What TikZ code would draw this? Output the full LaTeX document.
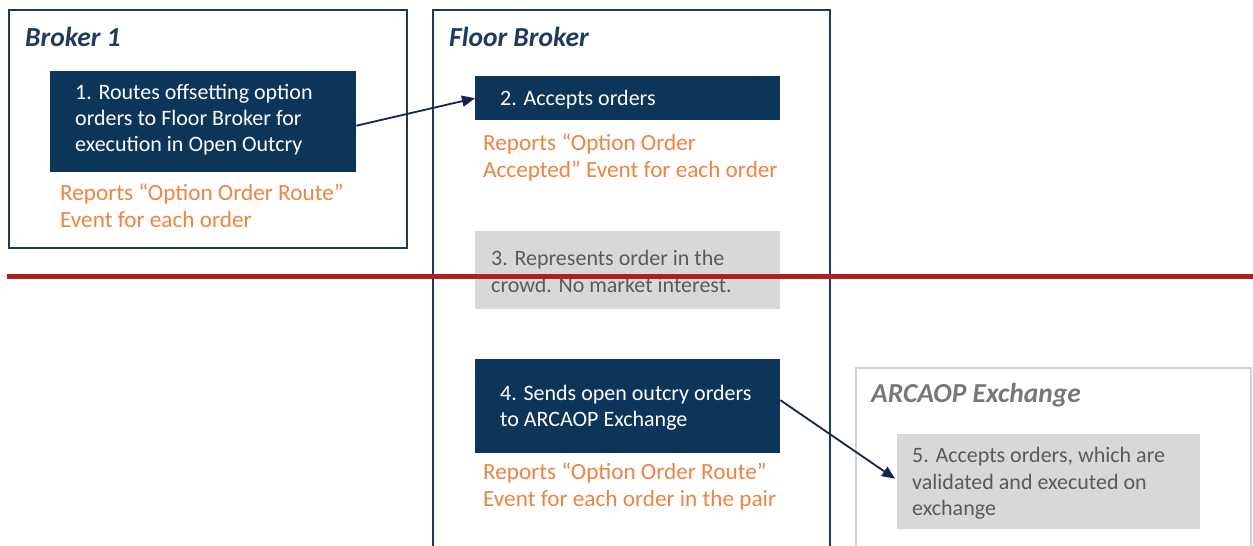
\documentclass[tikz,border=0pt]{standalone}
\usepackage{fontspec}
\setmainfont{Carlito}
\usetikzlibrary{arrows.meta}
\definecolor{navy}{RGB}{13,53,89}
\definecolor{frame}{RGB}{30,58,92}
\definecolor{arrowc}{RGB}{22,36,84}
\definecolor{orangetxt}{RGB}{238,132,66}
\definecolor{grayfill}{RGB}{216,216,216}
\definecolor{graytxt}{RGB}{90,90,90}
\definecolor{lightframe}{RGB}{210,210,210}
\definecolor{titlegray}{RGB}{120,120,120}
\definecolor{redline}{RGB}{180,30,35}
\tikzset{
  x=1pt, y=-1pt,
  outerbox/.style={draw=frame, line width=2.2pt, fill=white},
  exbox/.style={draw=lightframe, line width=2pt, fill=white},
  title/.style={anchor=west, inner sep=0, font=\fontsize{27.5}{31}\selectfont\bfseries\itshape, text=frame},
  navybox/.style={fill=navy, draw=none},
  graybox/.style={fill=grayfill, draw=none},
  whitetxt/.style={anchor=west, inner sep=0, align=left, text=white, font=\fontsize{22}{26}\selectfont},
  graytext/.style={anchor=west, inner sep=0, align=left, text=graytxt, font=\fontsize{22}{26.5}\selectfont},
  orangetext/.style={anchor=west, inner sep=0, align=left, text=orangetxt, font=\fontsize{23.2}{27}\selectfont},
  conn/.style={draw=arrowc, line width=1.8pt, -{Triangle[length=13pt,width=11pt]}}
}
\begin{document}
\begin{tikzpicture}
\useasboundingbox (0,0) rectangle (1253,546);
\clip (0,0) rectangle (1253,546);
% outer frames
\draw[outerbox] (9,10) rectangle (407,248);
\draw[outerbox] (433,10) rectangle (830,560);
\draw[exbox] (856,368) rectangle (1251,560);
% titles
\node[title] (t1) at (25,37) {Broker 1};
\node[title] (t2) at (449,37) {Floor Broker};
\node[title, text=titlegray] (t3) at (871,395) {ARCAOP Exchange};
% boxes
\node[navybox, minimum width=306pt, minimum height=101pt, inner sep=0, anchor=north west] (b1) at (50,71) {};
\node[whitetxt] (b1t) at (75,120) {1. Routes offsetting option\\orders to Floor Broker for\\execution in Open Outcry};
\node[orangetext] (o1) at (60,205.5) {Reports “Option Order Route”\\Event for each order};

\node[navybox, minimum width=305pt, minimum height=44pt, inner sep=0, anchor=north west] (b2) at (475,76) {};
\node[whitetxt] (b2t) at (500,100) {2. Accepts orders};
\node[orangetext] (o2) at (483,157.5) {Reports “Option Order\\Accepted” Event for each order};

\node[graybox, minimum width=305pt, minimum height=78pt, inner sep=0, anchor=north west] (b3) at (475,231) {};
\node[graytext] (b3t) at (491,271.5) {3. Represents order in the\\crowd. No market interest.};

\node[navybox, minimum width=305pt, minimum height=94pt, inner sep=0, anchor=north west] (b4) at (475,359) {};
\node[whitetxt] (b4t) at (500,408) {4. Sends open outcry orders\\to ARCAOP Exchange};
\node[orangetext] (o4) at (483,486) {Reports “Option Order Route”\\Event for each order in the pair};

\node[graybox, minimum width=303pt, minimum height=95pt, inner sep=0, anchor=north west] (b5) at (897,434) {};
\node[graytext] (b5t) at (912,483.5) {5. Accepts orders, which are\\validated and executed on\\exchange};

% red separator line
\coordinate (r1) at (7,276.5);
\coordinate (r2) at (1253,276.5);
\draw[draw=redline, line width=4.5pt] (r1) -- (r2);

% connectors
\draw[conn] ([yshift=-4pt]b1.east) -- (b2.west);
\draw[conn] ([yshift=6pt]b4.east) -- ([xshift=-2pt,yshift=3pt]b5.west);
\end{tikzpicture}
\end{document}
